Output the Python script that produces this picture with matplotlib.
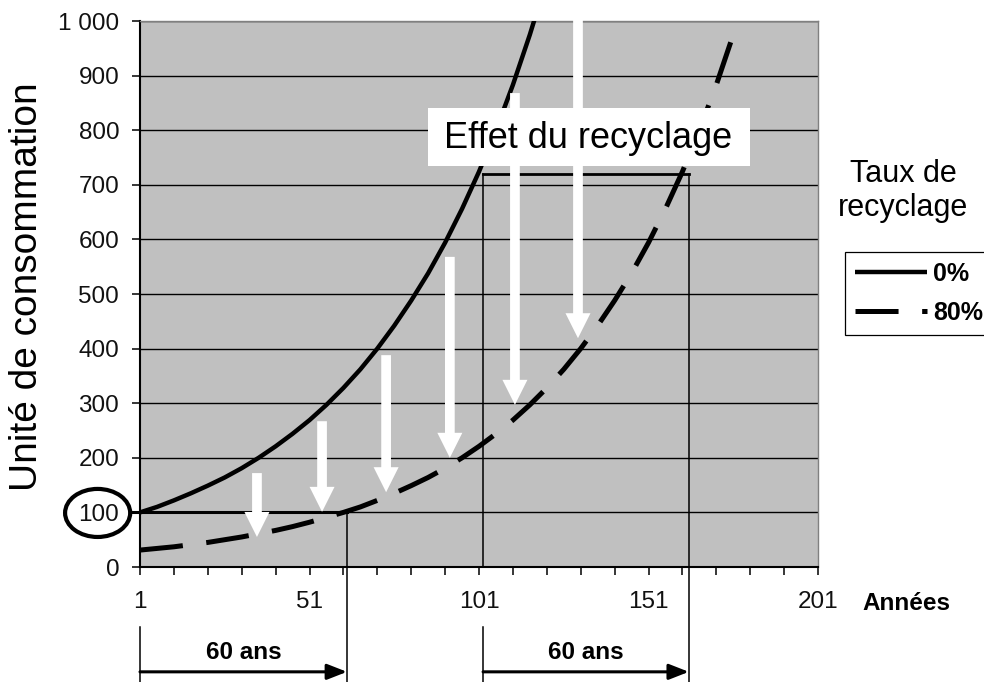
import matplotlib.pyplot as plt
from matplotlib.patches import Ellipse, Rectangle

plt.rcParams['font.family'] = ['Liberation Sans', 'DejaVu Sans']
plt.rcParams['lines.scale_dashes'] = False

# consumption units (every 5 years)
years_0 = [1, 6, 11, 16, 21, 26, 31, 36, 41, 46, 51, 56, 61, 66, 71, 76, 81,
           86, 91, 96, 101, 106, 111, 116, 121]
conso_0 = [100, 110, 122, 135, 149, 164, 181, 200, 221, 244, 269, 297, 328,
           362, 400, 442, 488, 538, 594, 656, 724, 800, 883, 975, 1076]

years_80 = [1, 6, 11, 16, 21, 26, 31, 36, 41, 46, 51, 56, 61, 66, 71, 76, 81,
            86, 91, 96, 101, 106, 111, 116, 121, 126, 131, 136, 141, 146, 151,
            156, 161, 166, 171, 176]
conso_80 = [31, 34, 37, 41, 45, 50, 55, 61, 67, 74, 82, 91, 100, 110, 122,
            135, 149, 164, 181, 200, 221, 244, 269, 297, 328, 362, 400, 442,
            488, 538, 594, 656, 724, 800, 883, 975]

series_labels = ['0%', '80%']
y_ticks = [0, 100, 200, 300, 400, 500, 600, 700, 800, 900, 1000]
y_tick_labels = ['0', '100', '200', '300', '400', '500', '600', '700', '800',
                 '900', '1 000']
x_ticks = list(range(1, 202, 10))
x_tick_labels = [str(t) if (t - 1) % 50 == 0 else '' for t in x_ticks]

# white "effect" arrows: (year, from, to)
white_arrows = [(35.5, 172, 55), (54.7, 267, 101), (73.6, 388, 137),
                (92.4, 568, 200), (111.6, 868, 297), (130.2, 1040, 419)]

W, H = 984, 682
fig = plt.figure(figsize=(W / 100, H / 100), dpi=100)
ax = fig.add_axes([140 / W, 1 - 567 / H, 678 / W, 546 / H])
ax.set_facecolor('#c0c0c0')
ax.set_xlim(1, 201)
ax.set_ylim(0, 1000)

ax.set_yticks(y_ticks)
ax.set_yticklabels(y_tick_labels)
ax.set_xticks(x_ticks)
ax.set_xticklabels(x_tick_labels)
ax.yaxis.grid(True, color='black', lw=1.0)
ax.set_axisbelow(True)
ax.tick_params(axis='both', direction='out', length=6, width=1.1,
               labelsize=17.5, labelcolor='#111111')
ax.tick_params(axis='y', pad=9)
ax.tick_params(axis='x', pad=11)
for s in ['top', 'right']:
    ax.spines[s].set_color('#808080')
    ax.spines[s].set_linewidth(1)
for s in ['left', 'bottom']:
    ax.spines[s].set_linewidth(1.5)

l0, = ax.plot(years_0, conso_0, color='black', lw=3.2, zorder=3,
              solid_capstyle='butt')
l80, = ax.plot(years_80, conso_80, color='black', lw=3.6, zorder=3,
               dashes=(31, 17))

# white arrows
for x, y0, y1 in white_arrows:
    ax.annotate('', xy=(x, y1), xytext=(x, y0), annotation_clip=False,
                arrowprops=dict(arrowstyle='simple,head_length=18,head_width=18,tail_width=7',
                                mutation_scale=1, fc='white', ec='none',
                                shrinkA=0, shrinkB=0), zorder=5)

# circle around 100 and reference lines
ax.add_patch(Ellipse((-11.5, 99), 19.2, 88, fill=False, ec='black', lw=3,
                     clip_on=False, zorder=6))
ax.plot([-1.9, 62.06], [100, 100], color='black', lw=2.2, clip_on=False, zorder=4)
ax.plot([102.2, 162.9], [720, 720], color='black', lw=2, clip_on=False, zorder=4)
ax.plot([62.06, 62.06], [100, -211], color='black', lw=1.1, clip_on=False, zorder=4)
ax.plot([162.9, 162.9], [720, -211], color='black', lw=1.1, clip_on=False, zorder=4)
ax.plot([102.2, 102.2], [720, 0], color='black', lw=1.1, clip_on=False, zorder=4)
ax.plot([102.2, 102.2], [-110, -211], color='black', lw=1.1, clip_on=False, zorder=4)
ax.plot([1, 1], [-110, -211], color='black', lw=1.1, clip_on=False, zorder=4)

# "60 ans" spans
for a, b in [(1, 62.06), (102.2, 162.9)]:
    ax.annotate('', xy=(b, -192), xytext=(a, -192), annotation_clip=False,
                arrowprops=dict(arrowstyle='-|>,head_length=12,head_width=4.7',
                                mutation_scale=1, color='black', lw=2.2,
                                shrinkA=0, shrinkB=0))
    ax.text((a + b) / 2, -156, '60 ans', ha='center', va='center',
            fontsize=17.5, fontweight='bold', clip_on=False)

# "Effet du recyclage" label box
fig.add_artist(Rectangle((428 / W, 1 - 166 / H), 322 / W, 58 / H,
                         transform=fig.transFigure, fc='white', ec='none',
                         zorder=10))
fig.text(588 / W, 1 - 138.5 / H, 'Effet du recyclage', ha='center',
         va='center', fontsize=26, zorder=11)

fig.text(27 / W, 1 - 287 / H, 'Unité de consommation', rotation=90,
         ha='center', va='center', fontsize=28)
fig.text(862 / W, 1 - 603 / H, 'Années', ha='left', va='center',
         fontsize=17.5, fontweight='bold')
fig.text(903 / W, 1 - 191 / H, 'Taux de\nrecyclage', ha='center',
         va='center', fontsize=22, linespacing=1.2)

leg = fig.legend([l0, l80], series_labels, loc='upper left',
                 bbox_to_anchor=(845 / W, 1 - 252 / H),
                 prop=dict(weight='bold', size=18), frameon=True,
                 fancybox=False, edgecolor='black', framealpha=1,
                 handlelength=2.88, handletextpad=0.24, borderpad=0.4,
                 labelspacing=0.6, borderaxespad=0)
leg.get_frame().set_linewidth(0.9)

fig.savefig('out.png', dpi=100)
